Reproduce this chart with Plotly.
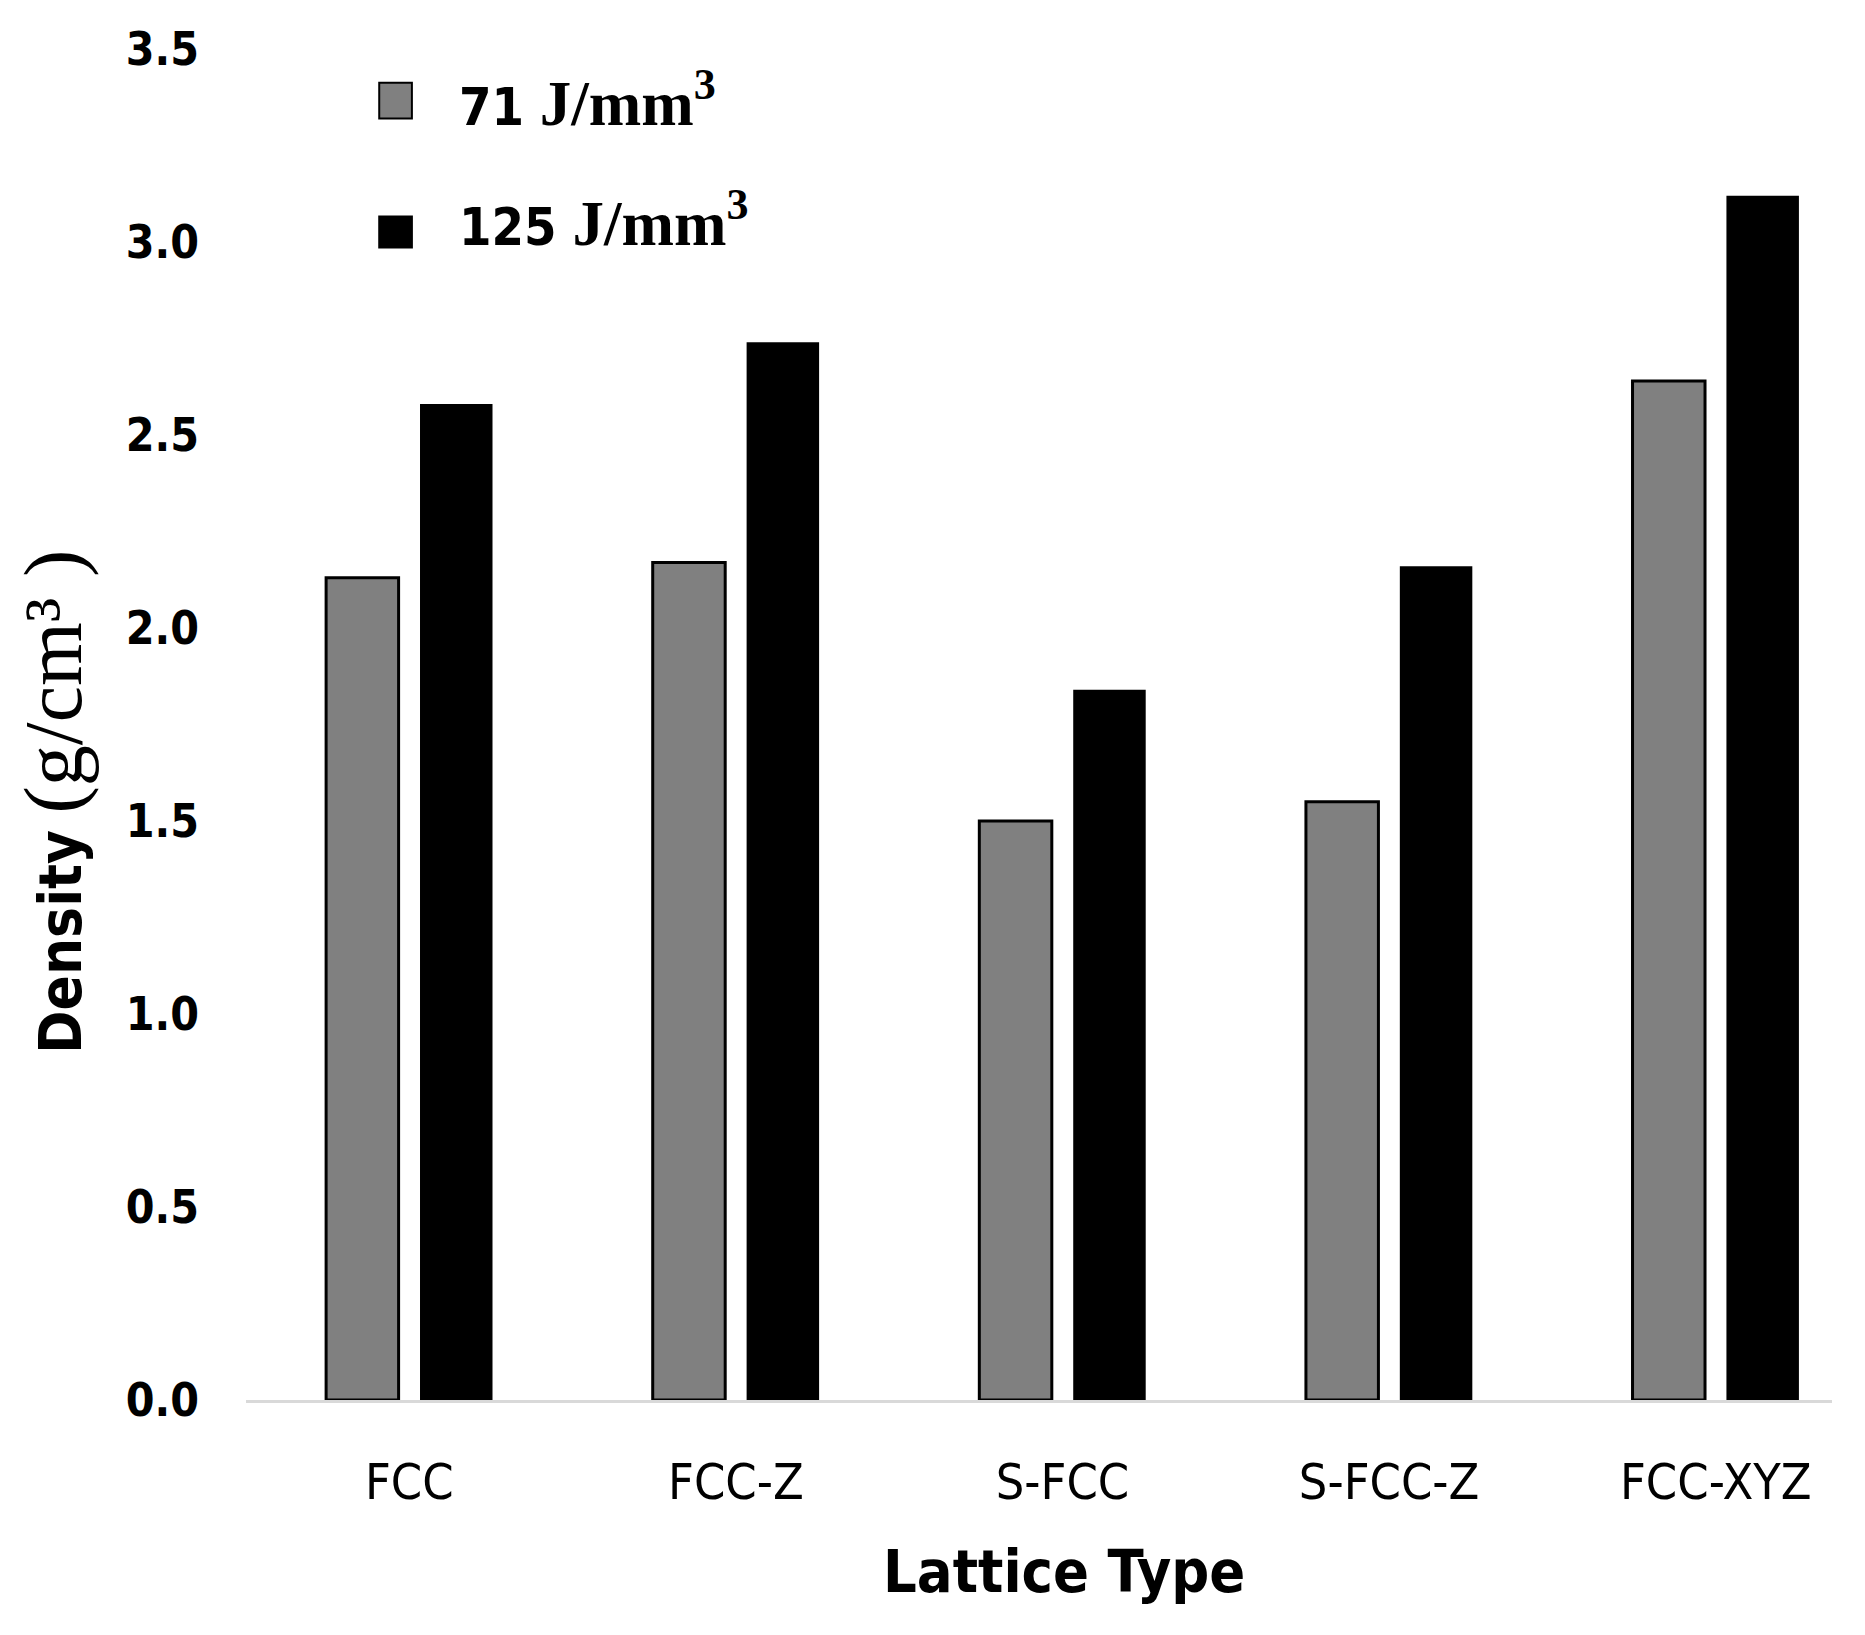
#!/usr/bin/env python3
"""
Density of lattice samples at two energy densities (grouped bars)
"""

import plotly.graph_objects as go

# data
lattice_types = ["FCC", "FCC-Z", "S-FCC", "S-FCC-Z", "FCC-XYZ"]
density_71 = [2.13, 2.17, 1.50, 1.55, 2.64]
density_125 = [2.58, 2.74, 1.84, 2.16, 3.12]
energy_levels = ["71", "125"]
y_ticks = [0.0, 0.5, 1.0, 1.5, 2.0, 2.5, 3.0, 3.5]

SANS = "DejaVu Sans Condensed, DejaVu Sans, sans-serif"
SERIF = "Liberation Serif, DejaVu Serif, serif"
GRAY = "#808080"


def build_figure():
    fig = go.Figure()

    fig.add_trace(go.Bar(
        x=lattice_types, y=density_71,
        name=f"{energy_levels[0]} J/mm³",
        marker=dict(color=GRAY, line=dict(color="black", width=3)),
        showlegend=False
    ))
    fig.add_trace(go.Bar(
        x=lattice_types, y=density_125,
        name=f"{energy_levels[1]} J/mm³",
        marker=dict(color="black", line=dict(color="black", width=0)),
        showlegend=False
    ))

    # hand made legend with big swatches, like the original
    swatches = [
        (GRAY, 0.9485, 0.9750, 0.9625),
        ("black", 0.8530, 0.8760, 0.8740),
    ]
    for (color, y0, y1, ytxt), level in zip(swatches, energy_levels):
        fig.add_shape(
            type="rect", xref="paper", yref="paper",
            x0=0.0840, x1=0.1046, y0=y0, y1=y1,
            fillcolor=color, line=dict(color="black", width=2)
        )
        fig.add_annotation(
            text=(f"<b><span style='font-family:DejaVu Sans Condensed;font-size:52px'>"
                  f"{level}</span> J/mm<sup>3</sup></b>"),
            xref="paper", yref="paper",
            x=0.1330, y=ytxt, xanchor="left", yanchor="middle",
            showarrow=False,
            font=dict(size=63, family=SERIF, color="black")
        )

    # axis titles
    fig.add_annotation(
        text=("<b>Density</b> <span style='font-family:Liberation Serif;font-size:82px'>"
              "(g/cm³ )</span>"),
        xref="paper", yref="paper",
        x=-0.1215, y=0.4430, xanchor="center", yanchor="middle",
        textangle=-90, showarrow=False,
        font=dict(size=58, family=SANS, color="black")
    )
    fig.add_annotation(
        text="<b>Lattice Type</b>",
        xref="paper", yref="paper",
        x=0.5155, y=-0.1267, xanchor="center", yanchor="middle",
        showarrow=False,
        font=dict(size=59, family=SANS, color="black")
    )

    fig.update_layout(
        width=1865, height=1635,
        margin=dict(l=238, r=41, t=41, b=243),
        plot_bgcolor="white",
        paper_bgcolor="white",
        barmode="group",
        bargap=0.425,
        bargroupgap=0.228,
        font=dict(family=SANS, color="black")
    )

    fig.update_xaxes(
        range=[-0.5, 4.356],
        showgrid=False,
        showline=True, linecolor="#d9d9d9", linewidth=3,
        ticks="",
        ticklabelstandoff=36,
        tickfont=dict(size=50, family=SANS, color="black")
    )
    fig.update_yaxes(
        range=[0, 3.5],
        tickvals=y_ticks,
        ticktext=[f"<b>{v:.1f}</b>" for v in y_ticks],
        showgrid=False, zeroline=False, showline=False,
        ticks="",
        ticklabelstandoff=46,
        tickfont=dict(size=46, family=SANS, color="black")
    )
    return fig


def main():
    fig = build_figure()
    fig.write_html("out.html")
    print("Saved to: out.html")


if __name__ == "__main__":
    main()
